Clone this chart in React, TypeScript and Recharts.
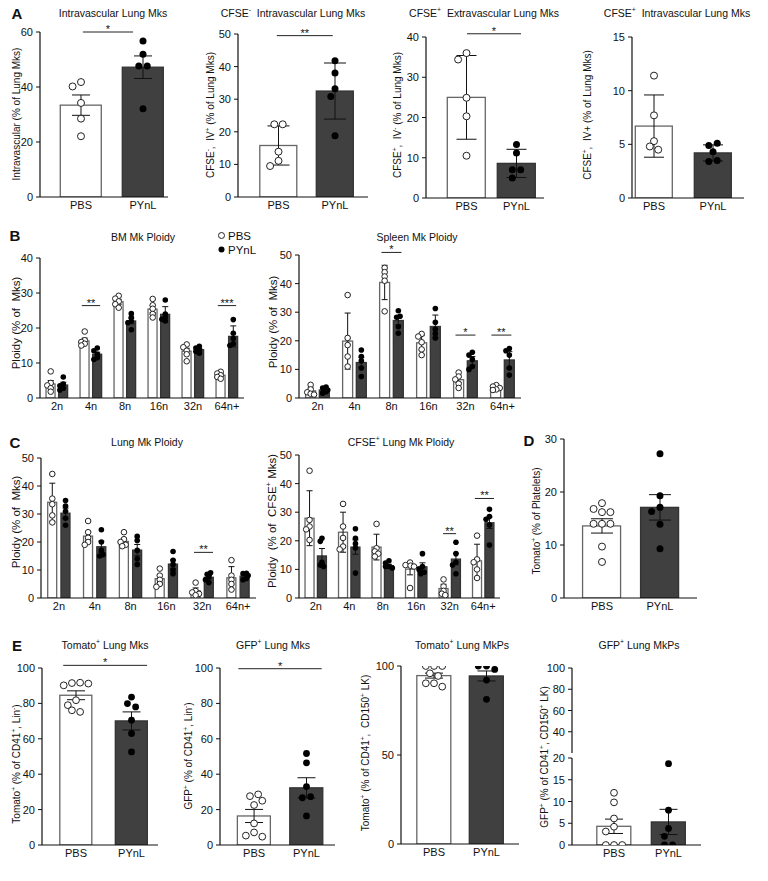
import React from "react";
import {
  ComposedChart,
  Bar,
  Scatter,
  ErrorBar,
  XAxis,
  YAxis,
  ReferenceLine,
} from "recharts";

const FONT = "'Liberation Sans', Arial, Helvetica, sans-serif";
const INK = "#111";
const DARK = "#404040";

const groups = ["PBS", "PYnL"];
const ploidy = ["2n", "4n", "8n", "16n", "32n", "64n+"];

// A - intravascular / CFSE lung Mks (PBS, PYnL)
const ivMean = [33.4, 47.2];
const ivErr = [3.7, 4.1];
const ivPts = [
  [41.8, 40.2, 34.2, 28.5, 22.1],
  [56.7, 51.9, 47.6, 47.6, 32.1],
];
const cfseNegIvMean = [15.8, 32.5];
const cfseNegIvErr = [6.0, 8.6];
const cfseNegIvPts = [
  [22.3, 22.3, 13.9, 11.1, 9.5],
  [41.8, 38.0, 33.2, 30.8, 18.8],
];
const cfsePosEvMean = [25.0, 8.6];
const cfsePosEvErr = [10.4, 3.5];
const cfsePosEvPts = [
  [36.0, 34.4, 24.9, 20.3, 10.5],
  [13.3, 11.2, 7.0, 7.0, 5.0],
];
const cfsePosIvMean = [6.7, 4.2];
const cfsePosIvErr = [2.9, 0.75];
const cfsePosIvPts = [
  [11.4, 7.7, 5.3, 4.8, 4.5],
  [5.1, 4.9, 4.3, 3.5, 3.4],
];

// B - BM and spleen ploidy (rows: PBS, PYnL; columns: ploidy classes)
const bmMean = [
  [4.0, 16.3, 27.5, 25.4, 13.4, 6.5],
  [3.7, 12.5, 22.0, 23.9, 13.8, 17.6],
];
const bmErr = [
  [1.0, 0.8, 0.7, 1.0, 0.8, 0.4],
  [0.8, 0.6, 0.8, 2.2, 0.4, 3.0],
];
const bmPts = [
  [
    [7.6, 4.3, 3.6, 2.8, 1.8],
    [19.0, 16.5, 16.0, 15.5, 15.0],
    [29.2, 28.4, 27.6, 26.8, 25.8],
    [28.3, 26.5, 25.5, 24.0, 23.0],
    [15.3, 14.5, 13.5, 12.5, 10.5],
    [7.5, 7.0, 6.5, 6.0, 5.5],
  ],
  [
    [6.0, 4.0, 3.5, 2.8, 2.3],
    [14.3, 13.5, 12.5, 11.5, 11.0],
    [24.1, 23.0, 22.0, 21.5, 19.5],
    [28.0, 24.0, 23.0, 22.5, 22.0],
    [14.8, 14.3, 13.8, 13.3, 12.8],
    [22.4, 18.5, 17.0, 15.5, 15.0],
  ],
];
const spleenMean = [
  [2.5, 19.9, 40.4, 19.3, 6.4, 3.5],
  [2.8, 12.4, 27.1, 25.0, 13.0, 13.3],
];
const spleenErr = [
  [1.0, 9.8, 6.0, 2.5, 1.0, 0.3],
  [0.6, 1.8, 1.5, 4.0, 1.5, 2.9],
];
const spleenPts = [
  [
    [4.6, 3.0, 2.0, 1.5, 1.2],
    [36.0, 21.0, 18.5, 14.5, 11.0],
    [45.5, 44.0, 42.5, 41.0, 30.3],
    [22.4, 21.5, 19.5, 17.0, 15.0],
    [8.9, 7.5, 6.5, 5.0, 3.5],
    [4.5, 4.0, 3.5, 3.0, 2.8],
  ],
  [
    [3.8, 3.5, 2.8, 2.2, 1.7],
    [16.8, 14.5, 13.0, 10.5, 7.5],
    [30.5, 28.6, 28.2, 24.9, 22.6],
    [31.3, 26.5, 24.0, 22.5, 21.0],
    [16.0, 15.0, 13.5, 11.0, 10.0],
    [17.3, 16.5, 15.0, 10.5, 8.0],
  ],
];

// C - lung ploidy
const lungMean = [
  [34.2, 22.1, 20.2, 6.9, 2.6, 7.2],
  [30.3, 18.3, 17.1, 12.1, 7.4, 7.8],
];
const lungErr = [
  [6.8, 1.5, 0.9, 1.3, 1.0, 4.0],
  [1.8, 2.0, 2.0, 1.5, 0.6, 0.5],
];
const lungPts = [
  [
    [44.3, 35.5, 33.5, 29.5, 27.0],
    [27.5, 23.5, 21.5, 20.0, 19.0],
    [23.5, 21.0, 20.0, 19.0, 18.5],
    [10.5, 8.0, 6.5, 5.0, 4.0],
    [5.5, 2.5, 2.0, 1.5, 1.0],
    [13.5, 8.0, 6.5, 5.0, 3.0],
  ],
  [
    [34.8, 32.8, 31.0, 28.5, 26.0],
    [24.4, 20.0, 17.0, 15.5, 15.0],
    [22.0, 20.5, 17.0, 14.0, 12.0],
    [16.6, 13.5, 12.0, 10.0, 8.7],
    [9.0, 8.5, 7.5, 6.5, 5.5],
    [8.8, 8.7, 8.0, 7.0, 6.5],
  ],
];
const cfseLungMean = [
  [27.9, 23.0, 17.8, 10.1, 3.3, 13.0],
  [14.7, 17.8, 11.3, 10.9, 13.6, 26.3],
];
const cfseLungErr = [
  [9.6, 7.0, 4.5, 2.0, 1.5, 5.8],
  [2.6, 2.5, 0.5, 1.4, 2.0, 2.0],
];
const cfseLungPts = [
  [
    [44.5, 27.3, 25.0, 24.0, 20.3],
    [32.9, 25.0, 21.0, 18.0, 17.0],
    [25.9, 17.4, 16.3, 15.5, 14.5],
    [12.4, 11.5, 11.3, 11.0, 3.5],
    [6.5, 4.0, 2.5, 1.5, 1.0],
    [21.8, 13.5, 12.5, 10.0, 7.0],
  ],
  [
    [20.9, 19.8, 12.5, 11.5, 11.0],
    [24.2, 20.9, 19.0, 17.5, 8.7],
    [13.0, 12.2, 11.0, 11.0, 10.5],
    [15.5, 11.0, 10.0, 9.0, 8.5],
    [19.5, 15.5, 12.5, 11.5, 8.5],
    [31.0, 28.5, 27.5, 25.5, 18.5],
  ],
];

// D - tomato+ platelets
const plateletMean = [13.6, 17.1];
const plateletErr = [1.35, 2.4];
const plateletPts = [
  [17.9, 16.8, 16.2, 16.2, 14.0, 14.0, 14.0, 9.7, 6.8],
  [27.2, 19.3, 17.1, 16.3, 13.9, 9.3],
];

// E - lineage tracing
const tomatoMkMean = [84.6, 70.1];
const tomatoMkErr = [2.5, 5.1];
const tomatoMkPts = [
  [91.7, 91.5, 91.2, 90.2, 81.8, 79.0, 76.1, 75.2],
  [83.6, 79.9, 78.0, 70.5, 63.0, 52.6],
];
const gfpMkMean = [16.4, 32.3];
const gfpMkErr = [3.7, 5.7];
const gfpMkPts = [
  [28.6, 27.6, 25.0, 22.6, 12.2, 7.1, 5.3, 4.7],
  [51.7, 46.4, 33.0, 27.3, 26.7, 16.4],
];
const tomatoMkpMean = [94.6, 94.4];
const tomatoMkpErr = [1.4, 2.8];
const tomatoMkpPts = [
  [100, 100, 100, 95.9, 94.4, 90.3, 90.3, 88.4],
  [100, 100, 98.1, 92.1, 81.3],
];
const gfpMkpMean = [4.3, 5.3];
const gfpMkpErr = [1.65, 2.9];
const gfpMkpPts = [
  [12.0, 9.8, 6.1, 4.2, 3.1, 0, 0, 0],
  [18.7, 8.0, 3.8, 2.0, 0, 0],
];

type Sig = { a: number; b: number; y: number; t: string };

// simple beeswarm: horizontal pixel offsets so dots don't overlap (much)
function swarm(values: number[], ky: number, gap: number): number[] {
  const order = values.map((_, i) => i).sort((a, b) => values[b] - values[a]);
  const placed: { x: number; y: number }[] = [];
  const dx = new Array(values.length).fill(0);
  order.forEach((i) => {
    const y = values[i] * ky;
    for (let k = 0; k < 30; k++) {
      const cand = k === 0 ? 0 : ((k % 2 ? -1 : 1) * Math.ceil(k / 2) * gap) / 2;
      if (placed.every((p) => Math.hypot(p.x - cand, p.y - y) >= gap - 0.01)) {
        dx[i] = cand;
        placed.push({ x: cand, y });
        break;
      }
    }
  });
  // centre rows of dots sharing (almost) the same value
  let start = 0;
  for (let j = 1; j <= order.length; j++) {
    const prev = values[order[j - 1]] * ky;
    if (j === order.length || prev - values[order[j]] * ky > gap * 0.5) {
      const row = order.slice(start, j);
      if (row.length > 1) {
        const m = row.reduce((a, i) => a + dx[i], 0) / row.length;
        row.forEach((i) => (dx[i] -= m));
      }
      start = j;
    }
  }
  return dx;
}

class Boundary extends React.Component<any, any> {
  state: any = { err: null };
  static getDerivedStateFromError(e: any) {
    return { err: e };
  }
  render() {
    return this.state.err ? null : this.props.children;
  }
}

const XTick = (props: any) => {
  const { x, y, payload, cats } = props;
  return (
    <text x={x} y={y + 10} textAnchor="middle" fontSize={11} fill={INK} fontFamily={FONT}>
      {cats[Math.round(payload.value) - 1]}
    </text>
  );
};

const YTick = (props: any) => {
  const { x, y, payload } = props;
  return (
    <text x={x - 1} y={y + 4} textAnchor="end" fontSize={11} fill={INK} fontFamily={FONT}>
      {payload.value}
    </text>
  );
};

const starLabel = (t: string) => (props: any) => {
  const vb = props.viewBox || {};
  const cx = (vb.x || 0) + (vb.width || 0) / 2;
  return (
    <text x={cx} y={(vb.y || 0) + 1} textAnchor="middle" fontSize={11} fill={INK} fontFamily={FONT}>
      {t}
    </text>
  );
};

// bar drawn at a fixed width around the centre the Bar series computes
const BarShape = (s: any) => {
  if (!s.height || s.height <= 0) return <g />;
  const dark = s.payload && s.payload.style === 1;
  const cx = s.x + s.width / 2;
  return (
    <rect
      x={cx - s.w / 2}
      y={s.y}
      width={s.w}
      height={s.height}
      fill={dark ? DARK : "#fff"}
      stroke={dark ? "#333" : "#666"}
      strokeWidth={1.3}
    />
  );
};

type PanelProps = {
  x0: number;
  x1: number;
  yTop: number;
  yBot: number;
  xDomain: [number, number];
  yMin?: number;
  yMax: number;
  yTicks: number[];
  cats: string[];
  mean: number[][];
  err: number[][];
  pts: any;
  byCat?: boolean;
  offsets?: number[];
  barSize: number;
  r: number;
  gap?: number;
  errW: number;
  sig?: Sig[];
  axisOnly?: boolean;
};

function Panel(p: PanelProps) {
  const YW = 36;
  const MT = 18;
  const MR = 6;
  const XH = p.axisOnly ? 0 : 20;
  const plotW = p.x1 - p.x0;
  const plotH = p.yBot - p.yTop;
  const [lo, hi] = p.xDomain;
  const yMin = p.yMin ?? 0;
  const kx = plotW / (hi - lo);
  const ky = plotH / (p.yMax - yMin);
  const gap = p.gap ?? 2 * p.r + 1.4;

  const rows: { x: number; mean: number; err: number; style: number }[] = [];
  const open: { x: number; y: number }[] = [];
  const filled: { x: number; y: number }[] = [];
  p.mean.forEach((ser, s) =>
    ser.forEach((m, c) => {
      const x = c + 1 + (p.offsets ? p.offsets[s] : 0);
      const style = p.byCat ? c : s;
      rows.push({ x, mean: m, err: p.err[s][c], style });
      const vals: number[] = p.byCat ? p.pts[c] : p.pts[s][c];
      const dx = swarm(vals, ky, gap);
      vals.forEach((v, i) =>
        (style === 0 ? open : filled).push({ x: x + dx[i] / kx, y: v })
      );
    })
  );
  const xTicks = p.cats.map((_, i) => i + 1);

  return (
    <div style={{ position: "absolute", left: p.x0 - YW, top: p.yTop - MT }}>
      <ComposedChart
        width={plotW + YW + MR}
        height={plotH + MT + XH}
        data={rows}
        margin={{ top: MT, right: MR, bottom: 0, left: 0 }}
      >
        <XAxis
          type="number"
          dataKey="x"
          domain={p.xDomain}
          ticks={xTicks}
          interval={0}
          allowDataOverflow
          hide={!!p.axisOnly}
          height={XH}
          tickLine={false}
          tickSize={0}
          axisLine={{ stroke: INK, strokeWidth: 1.2 }}
          tick={<XTick cats={p.cats} />}
        />
        <YAxis
          type="number"
          domain={[yMin, p.yMax]}
          ticks={p.yTicks}
          interval={0}
          allowDataOverflow
          width={YW}
          tickSize={4}
          axisLine={{ stroke: INK, strokeWidth: 1.2 }}
          tickLine={{ stroke: INK }}
          tick={<YTick />}
        />
        {!p.axisOnly && (
          <Bar
            dataKey="mean"
            barSize={p.barSize}
            isAnimationActive={false}
            shape={(s: any) => <BarShape {...s} w={p.barSize} />}
          />
        )}
        {!p.axisOnly && (
          <Scatter
            data={open}
            dataKey="y"
            isAnimationActive={false}
            shape={(s: any) => (
              <circle cx={s.cx} cy={s.cy} r={p.r} fill="#fff" stroke="#222" strokeWidth={1} />
            )}
          />
        )}
        {!p.axisOnly && (
          <Scatter
            data={filled}
            dataKey="y"
            isAnimationActive={false}
            shape={(s: any) => <circle cx={s.cx} cy={s.cy} r={p.r} fill="#000" />}
          />
        )}
        {!p.axisOnly && (
          <Scatter data={rows} dataKey="mean" isAnimationActive={false} shape={() => <g />}>
            <ErrorBar dataKey="err" direction="y" width={p.errW} stroke={INK} strokeWidth={1} />
          </Scatter>
        )}
        {(p.sig || []).map((s, i) => (
          <ReferenceLine
            key={i}
            segment={[
              { x: s.a, y: s.y },
              { x: s.b, y: s.y },
            ]}
            ifOverflow="visible"
            stroke="#222"
            strokeWidth={1}
            label={starLabel(s.t)}
          />
        ))}
      </ComposedChart>
    </div>
  );
}

const SafePanel = (p: PanelProps) => (
  <Boundary>
    <Panel {...p} />
  </Boundary>
);

const Sup = ({ c }: { c: string }) => (
  <sup style={{ fontSize: "0.65em", lineHeight: 0 }}>{c}</sup>
);

const Title = ({ x, y, children }: any) => (
  <div
    style={{
      position: "absolute",
      left: x,
      top: y,
      transform: "translate(-50%, -50%)",
      fontSize: 10.5,
      whiteSpace: "pre",
      lineHeight: 1,
    }}
  >
    {children}
  </div>
);

const VLabel = ({ x, y, size, children }: any) => (
  <div
    style={{
      position: "absolute",
      left: x,
      top: y,
      transform: "translate(-50%, -50%) rotate(-90deg)",
      fontSize: size || 10,
      whiteSpace: "pre",
      lineHeight: 1,
    }}
  >
    {children}
  </div>
);

const Letter = ({ x, y, t }: any) => (
  <div
    style={{
      position: "absolute",
      left: x,
      top: y,
      transform: "translate(-50%, -50%)",
      fontSize: 15,
      fontWeight: 700,
      lineHeight: 1,
    }}
  >
    {t}
  </div>
);

const t10 = [0, 10, 20, 30, 40, 50];
const t20 = [0, 20, 40, 60, 80, 100];
const pair = [-0.185, 0.185];

export default function App() {
  return (
    <div
      style={{
        position: "absolute",
        left: 0,
        top: 0,
        width: 768,
        height: 881,
        background: "#fff",
        fontFamily: FONT,
        color: INK,
        overflow: "hidden",
      }}
    >
      {/* A */}
      <Letter x={17} y={13} t="A" />
      <Title x={113} y={13}>Intravascular Lung Mks</Title>
      <VLabel x={17} y={114}>Intravascular (% of Lung Mks)</VLabel>
      <SafePanel
        x0={40} x1={168} yTop={32} yBot={197} xDomain={[0.339, 2.403]}
        yMax={60} yTicks={[0, 20, 40, 60]} cats={groups}
        mean={[ivMean]} err={[ivErr]} pts={ivPts} byCat
        barSize={41} r={3.5} errW={9}
        sig={[{ a: 1.03, b: 1.84, y: 60, t: "*" }]}
      />

      <Title x={293} y={13}>CFSE<Sup c="-" />  Intravascular Lung Mks</Title>
      <VLabel x={211} y={115}>CFSE<Sup c="-" />,  IV<Sup c="+" /> (% of Lung Mks)</VLabel>
      <SafePanel
        x0={238} x1={368} yTop={34} yBot={197} xDomain={[0.283, 2.584]}
        yMax={50} yTicks={t10} cats={groups}
        mean={[cfseNegIvMean]} err={[cfseNegIvErr]} pts={cfseNegIvPts} byCat
        barSize={37} r={3.5} errW={11}
        sig={[{ a: 0.97, b: 1.96, y: 49.5, t: "**" }]}
      />

      <Title x={484} y={13}>CFSE<Sup c="+" />  Extravascular Lung Mks</Title>
      <VLabel x={398} y={115}>CFSE<Sup c="+" />,  IV<Sup c="-" /> (% of Lung Mks)</VLabel>
      <SafePanel
        x0={426} x1={544} yTop={37} yBot={198} xDomain={[0.19, 2.55]}
        yMax={40} yTicks={[0, 10, 20, 30, 40]} cats={groups}
        mean={[cfsePosEvMean]} err={[cfsePosEvErr]} pts={cfsePosEvPts} byCat
        barSize={38} r={3.5} errW={10}
        sig={[{ a: 1.01, b: 2.09, y: 40.8, t: "*" }]}
      />

      <Title x={677} y={13}>CFSE<Sup c="+" />  Intravascular Lung Mks</Title>
      <VLabel x={588} y={115}>CFSE<Sup c="+" />,  IV+ (% of Lung Mks)</VLabel>
      <SafePanel
        x0={632} x1={744} yTop={37} yBot={198} xDomain={[0.627, 2.525]}
        yMax={15} yTicks={[0, 5, 10, 15]} cats={groups}
        mean={[cfsePosIvMean]} err={[cfsePosIvErr]} pts={cfsePosIvPts} byCat
        barSize={37} r={3.5} errW={10}
      />

      {/* B */}
      <Letter x={15} y={235} t="B" />
      <Title x={143} y={237}>BM Mk Ploidy</Title>
      <VLabel x={17} y={323} size={11.5}>Ploidy (% of  Mks)</VLabel>
      <SafePanel
        x0={40} x1={244} yTop={258} yBot={398} xDomain={[0.5, 6.5]}
        yMax={40} yTicks={[0, 10, 20, 30, 40]} cats={ploidy}
        mean={bmMean} err={bmErr} pts={bmPts} offsets={pair}
        barSize={9} r={2.8} gap={3.4} errW={3}
        sig={[
          { a: 1.73, b: 2.27, y: 26.4, t: "**" },
          { a: 5.73, b: 6.27, y: 26.4, t: "***" },
        ]}
      />
      <div style={{ position: "absolute", left: 217, top: 229, fontSize: 11.5, lineHeight: "14px" }}>
        <div>
          <svg width={9} height={9} style={{ marginRight: 2 }}>
            <circle cx={4.5} cy={4.5} r={3} fill="#fff" stroke="#222" />
          </svg>
          {groups[0]}
        </div>
        <div>
          <svg width={9} height={9} style={{ marginRight: 2 }}>
            <circle cx={4.5} cy={4.5} r={3} fill="#000" />
          </svg>
          {groups[1]}
        </div>
      </div>

      <Title x={417} y={237}>Spleen Mk Ploidy</Title>
      <VLabel x={274} y={322} size={11.5}>Ploidy (% of  Mks)</VLabel>
      <SafePanel
        x0={299} x1={521} yTop={255} yBot={398} xDomain={[0.5, 6.5]}
        yMax={50} yTicks={t10} cats={ploidy}
        mean={spleenMean} err={spleenErr} pts={spleenPts} offsets={pair}
        barSize={10} r={2.8} gap={3.4} errW={3}
        sig={[
          { a: 2.73, b: 3.27, y: 50.9, t: "*" },
          { a: 4.73, b: 5.27, y: 22, t: "*" },
          { a: 5.7, b: 6.24, y: 22, t: "**" },
        ]}
      />

      {/* C */}
      <Letter x={15} y={442} t="C" />
      <Title x={147} y={442}>Lung Mk Ploidy</Title>
      <VLabel x={17} y={522} size={11.5}>Ploidy (% of  Mks)</VLabel>
      <SafePanel
        x0={41} x1={256} yTop={458} yBot={598} xDomain={[0.5, 6.5]}
        yMax={50} yTicks={t10} cats={ploidy}
        mean={lungMean} err={lungErr} pts={lungPts} offsets={pair}
        barSize={9} r={2.8} gap={3.4} errW={3}
        sig={[{ a: 4.77, b: 5.3, y: 16.3, t: "**" }]}
      />

      <Title x={401} y={442}>CFSE<Sup c="+" /> Lung Mk Ploidy</Title>
      <VLabel x={273} y={521} size={11.5}>Ploidy  (% of  CFSE<Sup c="+" /> Mks)</VLabel>
      <SafePanel
        x0={299} x1={500} yTop={455} yBot={598} xDomain={[0.5, 6.5]}
        yMax={50} yTicks={t10} cats={ploidy}
        mean={cfseLungMean} err={cfseLungErr} pts={cfseLungPts} offsets={pair}
        barSize={9} r={2.8} gap={3.4} errW={3}
        sig={[
          { a: 4.8, b: 5.19, y: 22.5, t: "**" },
          { a: 5.75, b: 6.32, y: 34.8, t: "**" },
        ]}
      />

      {/* D */}
      <Letter x={529} y={440} t="D" />
      <VLabel x={537} y={521}>Tomato<Sup c="+" /> (% of Platelets)</VLabel>
      <SafePanel
        x0={564} x1={697} yTop={439} yBot={598} xDomain={[0.345, 2.638]}
        yMax={30} yTicks={[0, 10, 20, 30]} cats={groups}
        mean={[plateletMean]} err={[plateletErr]} pts={plateletPts} byCat
        barSize={38} r={3.5} errW={11}
      />

      {/* E */}
      <Letter x={17} y={645} t="E" />
      <Title x={105} y={645}>Tomato<Sup c="+" /> Lung Mks</Title>
      <VLabel x={17} y={764}>Tomato<Sup c="+" /> (% of CD41<Sup c="+" />, Lin<Sup c="-" />)</VLabel>
      <SafePanel
        x0={42} x1={158} yTop={668} yBot={845} xDomain={[0.387, 2.477]}
        yMax={100} yTicks={t20} cats={groups}
        mean={[tomatoMkMean]} err={[tomatoMkErr]} pts={tomatoMkPts} byCat
        barSize={32} r={3.4} errW={9}
        sig={[{ a: 0.77, b: 2.28, y: 101.5, t: "*" }]}
      />

      <Title x={273} y={645}>GFP<Sup c="+" /> Lung Mks</Title>
      <VLabel x={189} y={756}>GFP<Sup c="+" /> (% of CD41<Sup c="+" />, Lin<Sup c="-" />)</VLabel>
      <SafePanel
        x0={220} x1={335} yTop={668} yBot={845} xDomain={[0.35, 2.544]}
        yMax={100} yTicks={t20} cats={groups}
        mean={[gfpMkMean]} err={[gfpMkErr]} pts={gfpMkPts} byCat
        barSize={33} r={3.4} errW={9}
        sig={[{ a: 0.7, b: 2.29, y: 99.6, t: "*" }]}
      />

      <Title x={462} y={645}>Tomato<Sup c="+" /> Lung MkPs</Title>
      <VLabel x={366} y={753}>Tomato<Sup c="+" /> (% of CD41<Sup c="+" />,  CD150<Sup c="+" /> LK)</VLabel>
      <SafePanel
        x0={401} x1={519} yTop={666} yBot={844} xDomain={[0.371, 2.619]}
        yMax={100} yTicks={[0, 50, 100]} cats={groups}
        mean={[tomatoMkpMean]} err={[tomatoMkpErr]} pts={tomatoMkpPts} byCat
        barSize={34} r={3.4} errW={9}
      />

      <Title x={639} y={645}>GFP<Sup c="+" /> Lung MkPs</Title>
      <VLabel x={545} y={757}>GFP<Sup c="+" /> (% of CD41<Sup c="+" />, CD150<Sup c="+" /> LK)</VLabel>
      <SafePanel
        x0={572} x1={701} yTop={668} yBot={753} xDomain={[0.229, 2.596]}
        yMin={20} yMax={100} yTicks={[40, 60, 80, 100]} cats={groups}
        mean={[gfpMkpMean]} err={[gfpMkpErr]} pts={gfpMkpPts} byCat
        barSize={34} r={3.4} errW={9} axisOnly
      />
      <SafePanel
        x0={572} x1={701} yTop={758} yBot={845} xDomain={[0.229, 2.596]}
        yMax={20} yTicks={[0, 5, 10, 15, 20]} cats={groups}
        mean={[gfpMkpMean]} err={[gfpMkpErr]} pts={gfpMkpPts} byCat
        barSize={34} r={3.4} errW={9}
      />
    </div>
  );
}
